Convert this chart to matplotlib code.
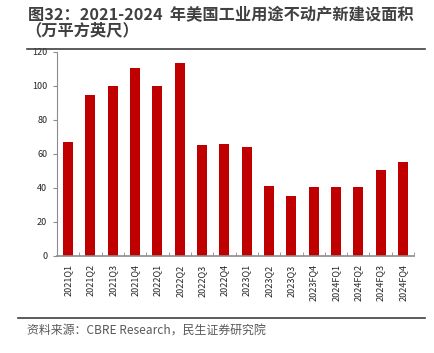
import numpy as np
import matplotlib.pyplot as plt

plt.rcParams['font.family'] = ['Noto Sans CJK SC', 'DejaVu Sans']

# Data
quarters = ["2021Q1", "2021Q2", "2021Q3", "2021Q4", "2022Q1", "2022Q2", "2022Q3", "2022Q4",
            "2023Q1", "2023Q2", "2023Q3", "2023FQ4", "2024FQ1", "2024FQ2", "2024FQ3", "2024FQ4"]
area = [67, 94.5, 100, 110.5, 100, 113.5, 65.5, 66, 64, 41, 35, 40.5, 40.5, 40.5, 50.5, 55]
yticks = [0, 20, 40, 60, 80, 100, 120]

red = "#C00000"
grey = "#8c8c8c"

fig = plt.figure(figsize=(4.35, 3.53), dpi=100)
ax = fig.add_axes([0.131, 0.275, 0.821, 0.578])

x = np.arange(len(quarters))
ax.bar(x, area, width=0.45, color=red)

ax.set_xlim(-0.5, len(quarters) - 0.5)
ax.set_ylim(0, 120)
ax.set_yticks(yticks)
ax.set_xticks(x)
ax.set_xticklabels(quarters, rotation=90, fontsize=6.5, color="#262626")
ax.set_xticks(np.arange(-0.5, len(quarters)), minor=True)
ax.tick_params(axis='x', which='major', length=0, pad=6)
ax.tick_params(axis='x', which='minor', length=3, color=grey, direction='in')
ax.tick_params(axis='y', length=3, color=grey, labelsize=6.5, labelcolor="#262626", pad=4)

for s in ['top', 'right']:
    ax.spines[s].set_visible(False)
ax.spines['left'].set_color(grey)
ax.spines['bottom'].set_color(grey)
ax.spines['bottom'].set_linewidth(1.2)

# Title and rules
fig.text(0.064, 0.958, "图32：2021-2024  年美国工业用途不动产新建设面积", fontsize=11.7,
         fontweight='bold', color="#404040", va='center', ha='left')
fig.text(0.058, 0.913, "（万平方英尺）", fontsize=11.7, fontweight='bold', color="#404040",
         va='center', ha='left')
fig.add_artist(plt.Line2D([0.062, 0.977], [0.862, 0.862], color="#404040", lw=1.2))
fig.add_artist(plt.Line2D([0.041, 0.977], [0.099, 0.099], color="#404040", lw=1.2))
fig.text(0.062, 0.065, "资料来源：CBRE Research，民生证券研究院", fontsize=8.6,
         color="#595959", va='center', ha='left')

plt.savefig("out.png", dpi=100)
